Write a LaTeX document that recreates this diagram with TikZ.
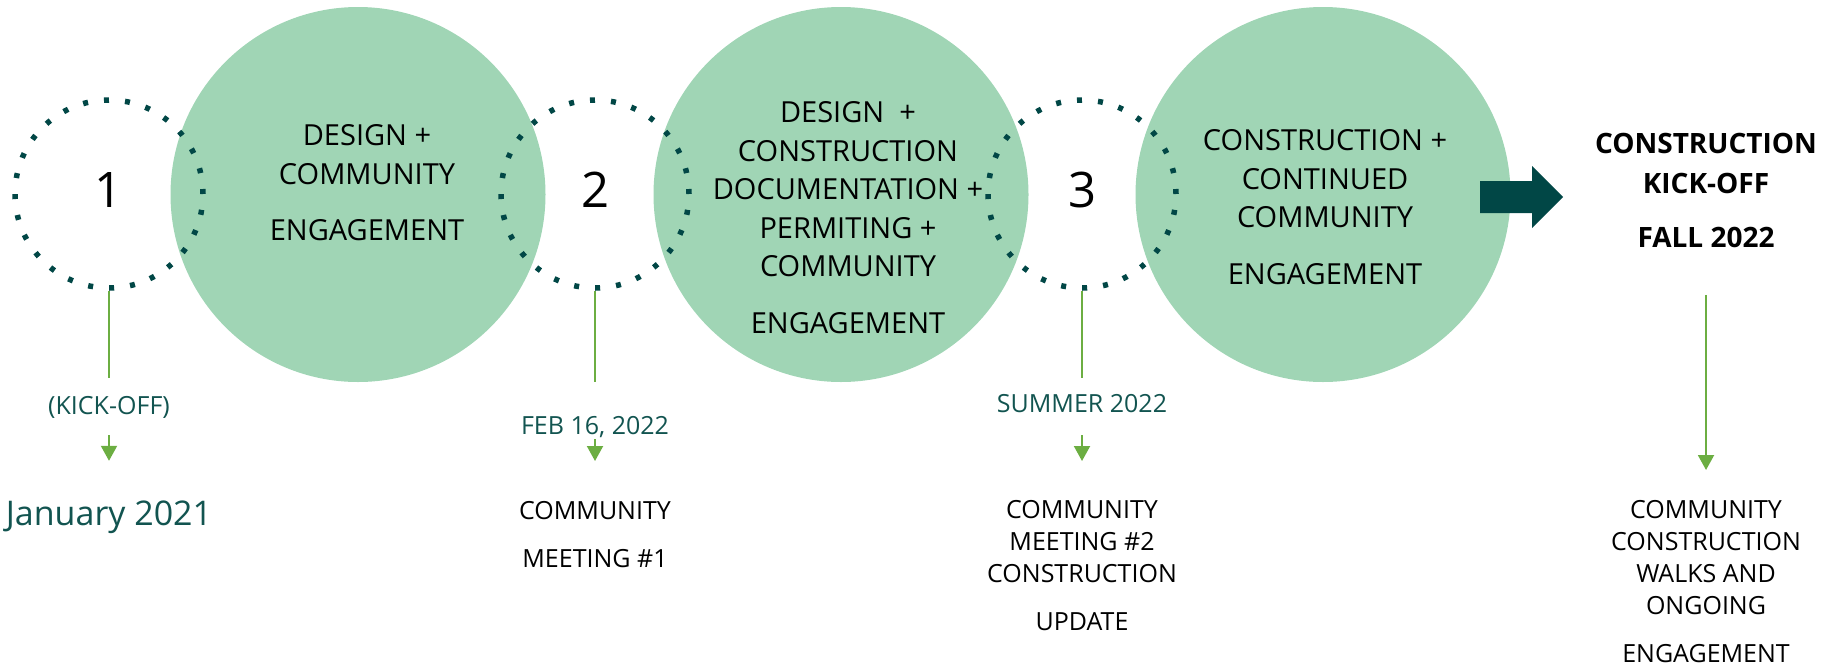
\documentclass[tikz,border=0pt]{standalone}
\usepackage{fontspec}
\setmainfont{Open Sans}
\usetikzlibrary{arrows.meta}
\definecolor{mint}{RGB}{160,213,181}
\definecolor{pine}{RGB}{1,71,70}
\definecolor{pinetext}{RGB}{18,84,80}
\definecolor{leaf}{RGB}{108,174,66}
\begin{document}
\begin{tikzpicture}[x=1pt,y=-1pt,
		phasebox/.style={circle,fill=mint,minimum size=375pt,inner sep=0pt},
		ringbox/.style={circle,draw=pine,line width=5.5pt,dash pattern=on 5pt off 16.1pt,minimum size=188pt,inner sep=0pt,text height=35pt,text depth=8pt,font=\fontsize{49}{49}\selectfont},
		phasetext/.style={anchor=north,align=center,inner sep=0pt,font=\fontsize{29}{38.5}\selectfont},
		headtext/.style={anchor=north,align=center,inner sep=0pt,font=\bfseries\fontsize{28}{40}\selectfont},
		tagtext/.style={text=pinetext,inner sep=0pt,text height=18pt,text depth=5pt,font=\fontsize{25}{30}\selectfont},
		datetext/.style={text=pinetext,inner sep=0pt,text height=25pt,text depth=8pt,font=\fontsize{34}{36}\selectfont},
		notetext/.style={anchor=north,align=center,inner sep=0pt,font=\fontsize{25}{32}\selectfont},
		stemline/.style={draw=leaf,line width=2pt},
		pointer/.style={stemline,-{Triangle[width=16pt,length=15pt]}}]
		\useasboundingbox (0,0) rectangle (1843,667);
		\node[phasebox] (p1) at (358,194.5) {};
		\node[phasebox] (p2) at (841,194.5) {};
		\node[phasebox] (p3) at (1323,194.5) {};
		\node[ringbox] (r1) at (109,194) {1};
		\node[ringbox] (r2) at (595,194) {2};
		\node[ringbox] (r3) at (1082,194) {3};
		\node[phasetext] (t1) at (367,124.5) {DESIGN +\\COMMUNITY\\[18pt]ENGAGEMENT};
		\node[phasetext] (t2) at (848,101.5) {DESIGN~~+\\CONSTRUCTION\\DOCUMENTATION +\\PERMITING +\\COMMUNITY\\[18pt]ENGAGEMENT};
		\node[phasetext] (t3) at (1325,129.5) {CONSTRUCTION +\\CONTINUED\\COMMUNITY\\[18pt]ENGAGEMENT};
		\fill[pine] (1480,181) -- (1532,181) -- (1532,166) -- (1563,197) -- (1532,228) -- (1532,213) -- (1480,213) -- cycle;
		\node[headtext] (h4) at (1706,132.5) {CONSTRUCTION\\KICK-OFF\\[14pt]FALL 2022};
		\node[tagtext] (k1) at (109,407.5) {(KICK-OFF)};
		\node[tagtext] (f2) at (595,427.5) {FEB 16, 2022};
		\node[tagtext] (s3) at (1082,405.5) {SUMMER 2022};
		\node[datetext] (j1) at (109,516.5) {January 2021};
		\node[notetext] (n2) at (595,501) {COMMUNITY\\[16pt]MEETING \#1};
		\node[notetext] (n3) at (1082,500) {COMMUNITY\\MEETING \#2\\CONSTRUCTION\\[16pt]UPDATE};
		\node[notetext] (n4) at (1706,500) {COMMUNITY\\CONSTRUCTION\\WALKS AND\\ONGOING\\[16pt]ENGAGEMENT};
		\draw[stemline,shorten >=18pt] (r1) -- (k1);
		\draw[pointer,shorten <=16pt,shorten >=39pt] (k1) -- (j1);
		\draw[stemline,shorten >=34pt] (r2) -- (f2);
		\draw[pointer,shorten >=40pt] (f2) -- (n2);
		\draw[stemline,shorten >=16pt] (r3) -- (s3);
		\draw[pointer,shorten <=18pt,shorten >=39pt] (s3) -- (n3);
		\draw[pointer,shorten <=47.5pt,shorten >=30pt] (h4) -- (n4);
\end{tikzpicture}
\end{document}
